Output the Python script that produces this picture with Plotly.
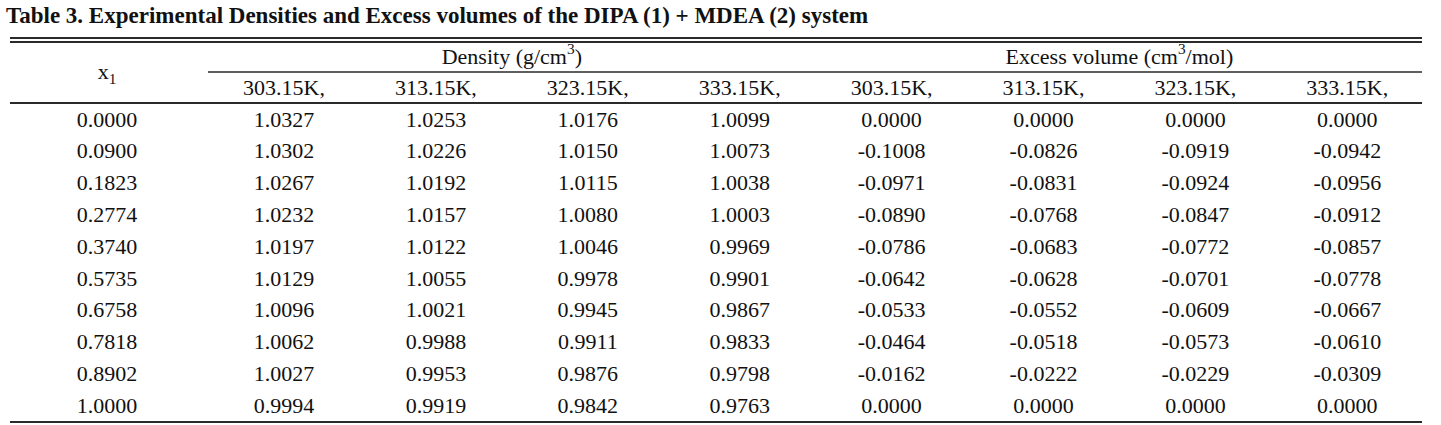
import plotly.graph_objects as go

title = "Table 3. Experimental Densities and Excess volumes of the DIPA (1) + MDEA (2) system"
group_headers = ["Density (g/cm<sup>3</sup>)", "Excess volume (cm<sup>3</sup>/mol)"]
temps = ["303.15K,", "313.15K,", "323.15K,", "333.15K,"]
x1 = ["0.0000", "0.0900", "0.1823", "0.2774", "0.3740", "0.5735", "0.6758", "0.7818", "0.8902", "1.0000"]

dens_303 = [1.0327, 1.0302, 1.0267, 1.0232, 1.0197, 1.0129, 1.0096, 1.0062, 1.0027, 0.9994]
dens_313 = [1.0253, 1.0226, 1.0192, 1.0157, 1.0122, 1.0055, 1.0021, 0.9988, 0.9953, 0.9919]
dens_323 = [1.0176, 1.0150, 1.0115, 1.0080, 1.0046, 0.9978, 0.9945, 0.9911, 0.9876, 0.9842]
dens_333 = [1.0099, 1.0073, 1.0038, 1.0003, 0.9969, 0.9901, 0.9867, 0.9833, 0.9798, 0.9763]
ve_303 = [0.0000, -0.1008, -0.0971, -0.0890, -0.0786, -0.0642, -0.0533, -0.0464, -0.0162, 0.0000]
ve_313 = [0.0000, -0.0826, -0.0831, -0.0768, -0.0683, -0.0628, -0.0552, -0.0518, -0.0222, 0.0000]
ve_323 = [0.0000, -0.0919, -0.0924, -0.0847, -0.0772, -0.0701, -0.0609, -0.0573, -0.0229, 0.0000]
ve_333 = [0.0000, -0.0942, -0.0956, -0.0912, -0.0857, -0.0778, -0.0667, -0.0610, -0.0309, 0.0000]

columns = [dens_303, dens_313, dens_323, dens_333, ve_303, ve_313, ve_323, ve_333]

# ---- layout geometry (pixel-like axis units) ----
W, H = 1441, 425
LEFT, RIGHT = 10, 1422
X1_CENTER = 107
COL0, COL_STEP = 284, 151.9
col_x = [COL0 + i * COL_STEP for i in range(len(columns))]
SUB_LINE_START = 208
Y_TITLE = 17
Y_DOUBLE = (38, 42)
Y_GROUP = 58
Y_GROUP_LINE = 72
Y_SUB = 89
Y_HEAD_LINE = 103
ROW0, ROW_STEP = 121, 31.8
Y_BOTTOM = 422

FONT = "Liberation Serif, Times New Roman, serif"
TXT = "#111111"
LINE = "#2a2a2a"
FS = 22

fig = go.Figure()

def text_trace(xs, ys, texts, pos="middle center", size=FS, color=TXT):
    fig.add_trace(go.Scatter(x=xs, y=ys, text=texts, mode="text", textposition=pos,
                             textfont=dict(family=FONT, size=size, color=color),
                             hoverinfo="skip", showlegend=False))

def hline(x0, x1_, y, width=1.6):
    fig.add_trace(go.Scatter(x=[x0, x1_], y=[y, y], mode="lines",
                             line=dict(color=LINE, width=width),
                             hoverinfo="skip", showlegend=False))

# title
text_trace([LEFT - 4], [Y_TITLE], ["<b>" + title + "</b>"], pos="middle right", size=23)

# rules
hline(LEFT, RIGHT, Y_DOUBLE[0], 1.8)
hline(LEFT, RIGHT, Y_DOUBLE[1], 1.8)
hline(SUB_LINE_START, RIGHT, Y_GROUP_LINE, 1.6)
hline(LEFT, RIGHT, Y_HEAD_LINE, 1.8)
hline(LEFT, RIGHT, Y_BOTTOM, 1.8)

# group headers
gx = [(col_x[0] + col_x[3]) / 2, (col_x[4] + col_x[7]) / 2]
text_trace(gx, [Y_GROUP, Y_GROUP], group_headers)

# x1 header
text_trace([X1_CENTER], [(Y_GROUP + Y_SUB) / 2], ["x<sub>1</sub>"])

# sub headers
text_trace(col_x, [Y_SUB] * len(col_x), temps + temps)

# data
row_y = [ROW0 + i * ROW_STEP for i in range(len(x1))]
text_trace([X1_CENTER] * len(x1), row_y, x1)
for cx, vals in zip(col_x, columns):
    text_trace([cx] * len(vals), row_y, [f"{v:.4f}" for v in vals])

fig.update_layout(
    width=W, height=H,
    margin=dict(l=0, r=0, t=0, b=0),
    paper_bgcolor="white", plot_bgcolor="white",
    xaxis=dict(range=[0, W], visible=False, fixedrange=True),
    yaxis=dict(range=[H, 0], visible=False, fixedrange=True),
    showlegend=False,
)

fig.write_html("out.html", config={"displayModeBar": False},
               post_script="document.body.style.margin='0';document.body.style.overflow='hidden';")
